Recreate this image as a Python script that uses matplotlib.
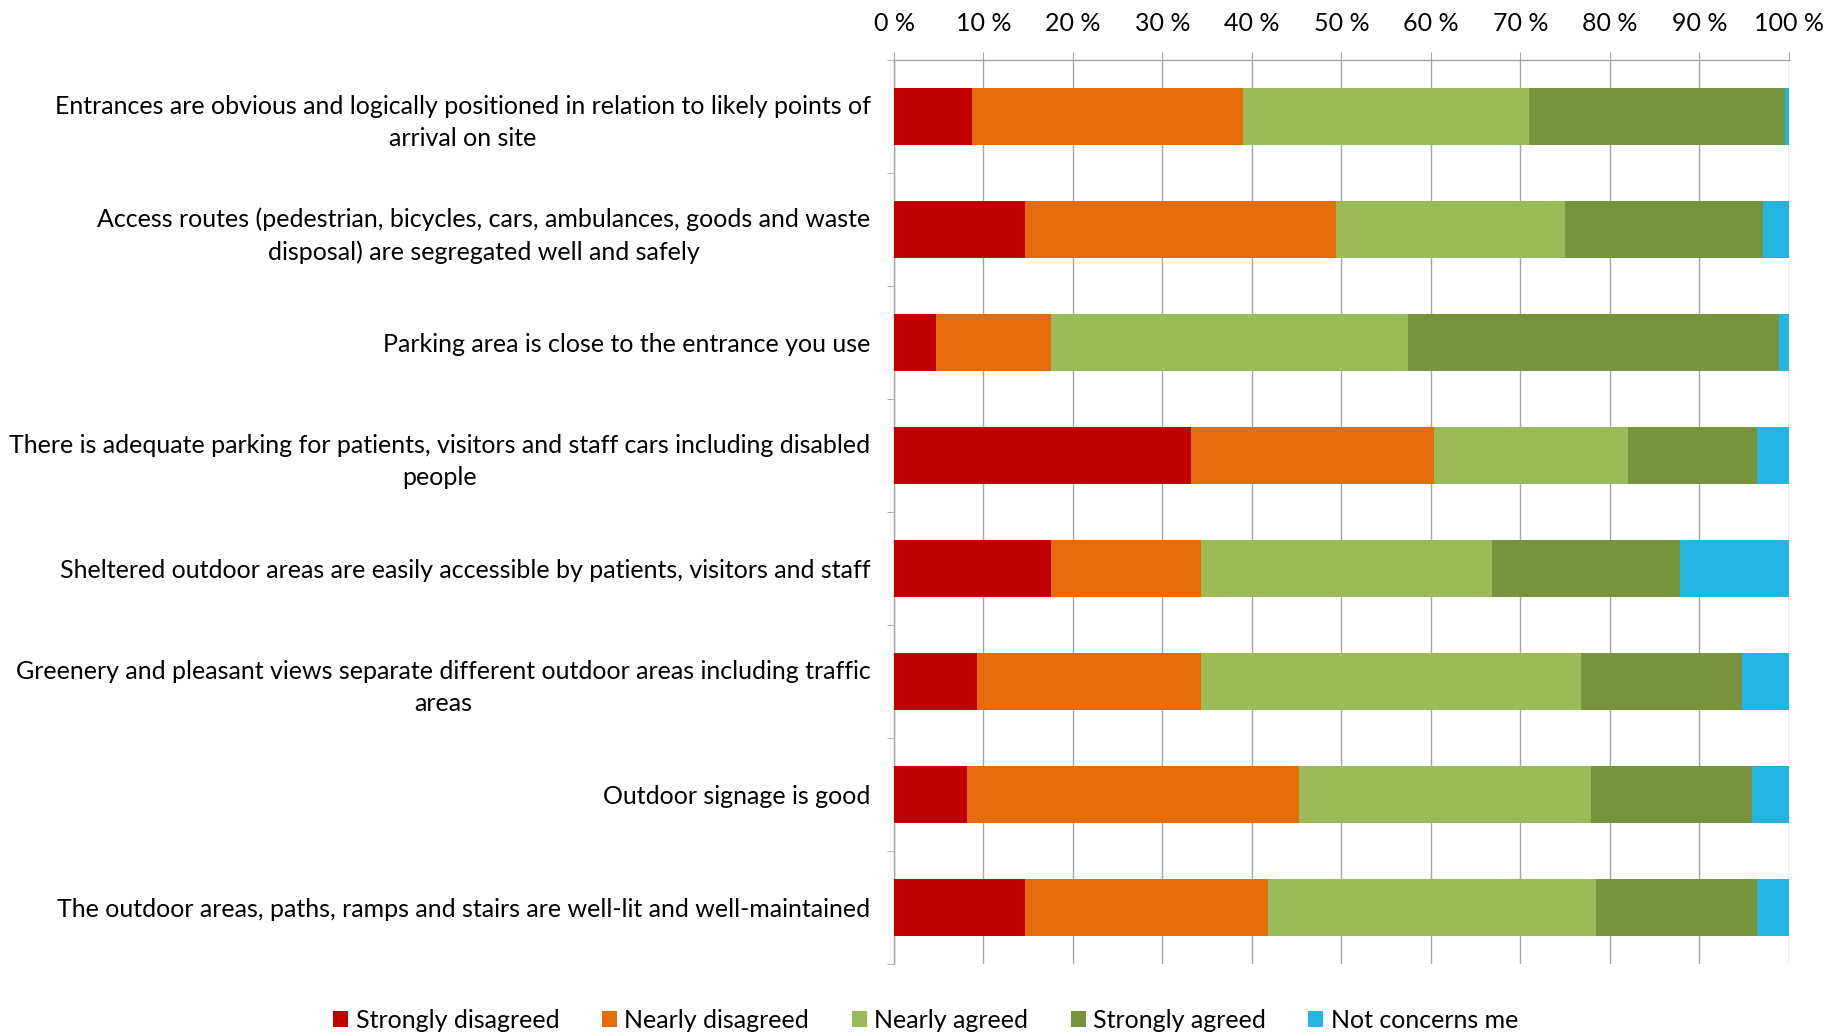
import matplotlib
matplotlib.use("Agg")
import matplotlib.pyplot as plt
import numpy as np
from matplotlib.ticker import FixedLocator, FuncFormatter

# survey statements, top to bottom
statements = [
    "Entrances are obvious and logically positioned in relation to likely points of\narrival on site",
    "Access routes (pedestrian, bicycles, cars, ambulances, goods and waste\ndisposal) are segregated well and safely",
    "Parking area is close to the entrance you use",
    "There is adequate parking for patients, visitors and staff cars including disabled\npeople",
    "Sheltered outdoor areas are easily accessible by patients, visitors and staff",
    "Greenery and pleasant views separate different outdoor areas including traffic\nareas",
    "Outdoor signage is good",
    "The outdoor areas, paths, ramps and stairs are well-lit and well-maintained",
]

answers = ["Strongly disagreed", "Nearly disagreed", "Nearly agreed",
           "Strongly agreed", "Not concerns me"]

# shares in percent, one list per answer (same order as statements)
strongly_disagreed = [8.7, 14.6, 4.7, 33.2, 17.5, 9.3, 8.2, 14.6]
nearly_disagreed = [30.3, 34.8, 12.8, 27.2, 16.8, 25.0, 37.1, 27.2]
nearly_agreed = [32.0, 25.6, 40.0, 21.6, 32.5, 42.5, 32.6, 36.7]
strongly_agreed = [28.6, 22.1, 41.4, 14.5, 21.0, 18.0, 18.0, 18.0]
not_concerns_me = [0.4, 2.9, 1.1, 3.5, 12.2, 5.2, 4.1, 3.5]

COLORS = ["#C00000", "#E46C0A", "#9BBB59", "#77933C", "#25B5E3"]
GRID = "#A6A6A6"

plt.rcParams.update({
    "font.family": ["Lato", "DejaVu Sans"],
    "text.color": "#000000",
})

series = [strongly_disagreed, nearly_disagreed, nearly_agreed,
          strongly_agreed, not_concerns_me]

fig = plt.figure(figsize=(18.26, 10.32), dpi=100)
ax = fig.add_axes([0.4896, 0.0659, 0.4900, 0.8761])

y = np.arange(len(statements))
left = np.zeros(len(statements))
for name, vals, col in zip(answers, series, COLORS):
    vals = np.array(vals)
    ax.barh(y, vals, left=left, height=0.5, color=col, label=name,
            edgecolor="none", zorder=3)
    left += vals

ax.set_xlim(0, 100)
ax.set_ylim(len(statements) - 0.5, -0.5)

# percent axis on top
ax.xaxis.tick_top()
ax.set_xticks(np.arange(0, 101, 10))
ax.xaxis.set_major_formatter(FuncFormatter(lambda v, p: f"{int(v)} %"))
ax.tick_params(axis="x", which="major", length=6, color=GRID, pad=12,
               labelsize=18)
ax.grid(axis="x", color=GRID, linewidth=1.0, zorder=0)

# category axis
ax.set_yticks(y)
ax.set_yticklabels(statements, multialignment="center", linespacing=1.45)
ax.yaxis.set_minor_locator(FixedLocator(np.arange(-0.5, len(statements), 1.0)))
ax.tick_params(axis="y", which="major", length=0, pad=17, labelsize=18)
ax.tick_params(axis="y", which="minor", length=5, color=GRID)

for side in ["right", "bottom"]:
    ax.spines[side].set_visible(False)
for side in ["left", "top"]:
    ax.spines[side].set_color(GRID)
    ax.spines[side].set_linewidth(1.0)

fig.legend(loc="lower center", bbox_to_anchor=(0.507, -0.022), ncol=5,
           frameon=False, fontsize=18, handlelength=0.6,
           handleheight=0.6, handletextpad=0.3, columnspacing=1.7)

fig.savefig("out.png", dpi=100)
